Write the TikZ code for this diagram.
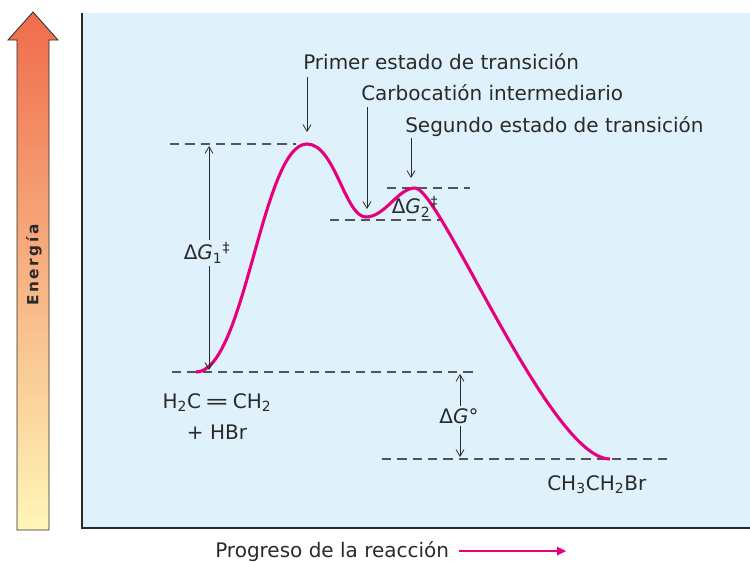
\documentclass[tikz,border=0pt]{standalone}
\usepackage{fontspec}
\setmainfont{DejaVu Sans}
\usetikzlibrary{arrows.meta,calc}

\definecolor{panelblue}{HTML}{DFF1FB}
\definecolor{curvemag}{HTML}{E6007E}
\definecolor{inkgray}{HTML}{2A2A2A}
\definecolor{dashgray}{HTML}{555555}
\definecolor{arrowtop}{HTML}{EF6C4C}
\definecolor{arrowmid}{HTML}{F8A878}
\definecolor{arrowbot}{HTML}{FFF6B8}

\newcommand{\tr}{\kern0.17em}

\begin{document}
\begin{tikzpicture}[
	x=0.75pt, y=-0.75pt,
	>={Straight Barb[length=5pt,width=6pt]},
	lbl/.style={font=\fontsize{15}{18}\selectfont, text=inkgray, inner sep=0pt},
	gap/.style={lbl, fill=panelblue, inner sep=2pt},
	lvl/.style={draw=dashgray, line width=0.9pt, dash pattern=on 7pt off 4.5pt},
	ptr/.style={->, draw=inkgray, line width=0.6pt},
	rxn/.style={draw=curvemag, line width=2.3pt}
]
\useasboundingbox (0,0) rectangle (750,561);

% Panel with left and bottom axes
\fill[panelblue] (82,13) rectangle (750,528);
\draw[inkgray, line width=1.5pt] (82,13) -- (82,528) -- (750,528);

% Energy arrow
\shade[top color=arrowtop, middle color=arrowmid, bottom color=arrowbot,
	draw=inkgray, line width=0.6pt]
	(17,530) -- (17,40) -- (8,40) -- (33,12) -- (58,40) -- (49,40) -- (49,530) -- cycle;
\node[rotate=90, text=inkgray, inner sep=0pt,
	font=\fontsize{11.5}{13}\selectfont\bfseries]
	(energia) at (34,265) {E\tr n\tr e\tr r\tr g\tr í\tr a};

% Key points of the profile
\coordinate (reac)  at (196,372);
\coordinate (ts1)   at (307,144);
\coordinate (inter) at (366,217);
\coordinate (ts2)   at (415,188);
\coordinate (prod)  at (610,459);

% Levels
\draw[lvl] (170,144) -- (296,144);
\draw[lvl] (387,188) -- (470,188);
\draw[lvl] (330,220) -- (440,220);
\draw[lvl] (172,372) -- (474,372);
\draw[lvl] (382,459) -- (668,459);

\draw[rxn] (reac) .. controls (245,372) and (262,144) .. (ts1)
	.. controls (335,144) and (345,217) .. (inter)
	.. controls (385,217) and (398,188) .. (ts2)
	.. controls (440,188) and (550,459) .. (prod);

% Energy differences
\coordinate (g1top) at (209,146);
\coordinate (g1bot) at (209,370);
\draw[ptr, <->] (g1top) -- (g1bot);
\node[gap] (dg1) at (207,253) {Δ\textit{G}\textsubscript{1}\textsuperscript{‡}};

\node[lbl] (dg2) at (415,207) {Δ\textit{G}\textsubscript{2}\textsuperscript{‡}};

\coordinate (g0top) at (460,374);
\coordinate (g0bot) at (460,457);
\draw[ptr, <->] (g0top) -- (g0bot);
\node[gap] (dg0) at (459,416) {Δ\textit{G}°};

% Top labels
\node[lbl, anchor=base west] (ts1lab) at (303,69) {Primer estado de transición};
\node[lbl, anchor=base west] (intlab) at (361,100) {Carbocatión intermediario};
\node[lbl, anchor=base west] (ts2lab) at (405,132) {Segundo estado de transición};

\coordinate (ts1tip) at (307,132);
\coordinate (inttip) at (367,209);
\coordinate (ts2tip) at (411,178);
\draw[ptr] ($(ts1lab.base -| ts1tip)+(0,8)$) -- (ts1tip);
\draw[ptr] ($(intlab.base -| inttip)+(0,7)$) -- (inttip);
\draw[ptr] ($(ts2lab.base -| ts2tip)+(0,6)$) -- (ts2tip);

% Reactants and product
\node[lbl, anchor=base] (reaclab) at (217,408)
	{H\textsubscript{2}C\,\scalebox{1.5}[1]{=}\,CH\textsubscript{2}};
\node[lbl, anchor=base] (hbrlab) at (217,439) {+ HBr};
\node[lbl, anchor=base west] (prodlab) at (547,490) {CH\textsubscript{3}CH\textsubscript{2}Br};

% Reaction axis
\node[lbl, anchor=base west] (xlab) at (215,557) {Progreso de la reacción};
\coordinate (xend) at ($(xlab.east)+(117,0)$);
\draw[curvemag, line width=2pt, -{Triangle[length=7pt,width=6pt]}]
	($(xlab.east)+(10,0)$) -- (xend);

\end{tikzpicture}
\end{document}
